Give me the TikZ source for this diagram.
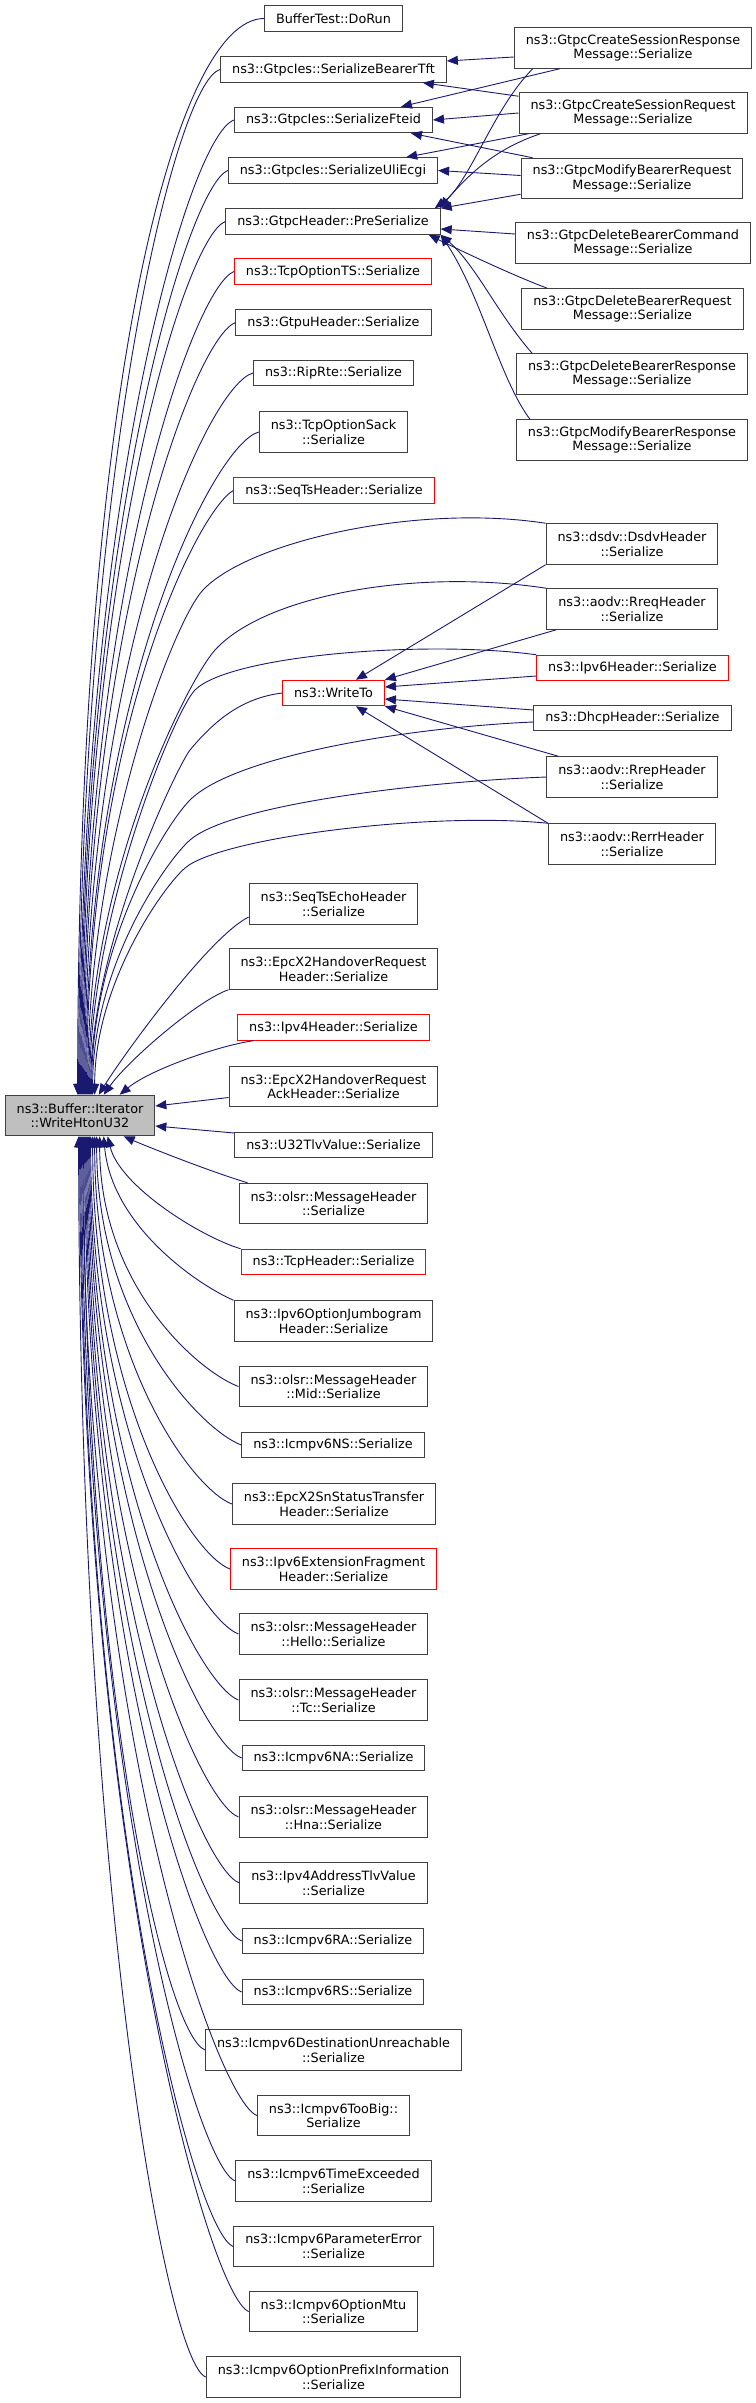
\documentclass[tikz,border=0pt]{standalone}
\usepackage{fontspec}
\setmainfont{DejaVu Sans}
\usetikzlibrary{arrows.meta,calc}
\definecolor{callblue}{HTML}{191970}
\definecolor{boxgrey}{HTML}{BFBFBF}
\tikzset{
  fn/.style={draw=black!75, line width=1pt, fill=white, align=center, inner xsep=11.5pt, inner ysep=0pt,
    minimum height=25.5pt, font=\fontsize{12.8pt}{14.5pt}\selectfont},
  fntwo/.style={fn, minimum height=40.5pt},
  hot/.style={draw=red},
  call/.style={draw=callblue, line width=0.9pt, -{Triangle[length=11pt,width=9pt]}},
}
\begin{document}
\begin{tikzpicture}[x=1pt,y=-1pt]
	\useasboundingbox (0,0) rectangle (755,2403);
	
	% the function itself
	\node[fntwo,fill=boxgrey] (main) at (80,1115.5) {ns3::Buffer::Iterator\\::WriteHtonU32};
	
	% middle column
	\node[fn] (dorun) at (333.5,18.5) {BufferTest::DoRun};
	\node[fn] (tft) at (333.5,69.5) {ns3::GtpcIes::SerializeBearerTft};
	\node[fn] (fteid) at (333.5,120) {ns3::GtpcIes::SerializeFteid};
	\node[fn] (uli) at (333,170.5) {ns3::GtpcIes::SerializeUliEcgi};
	\node[fn] (presz) at (333,221.5) {ns3::GtpcHeader::PreSerialize};
	\node[fn,hot] (tcpts) at (333,271.5) {ns3::TcpOptionTS::Serialize};
	\node[fn] (gtpu) at (333.5,322.5) {ns3::GtpuHeader::Serialize};
	\node[fn] (riprte) at (333.5,373) {ns3::RipRte::Serialize};
	\node[fntwo] (sack) at (333.5,432) {ns3::TcpOptionSack\\::Serialize};
	\node[fn,hot] (seqts) at (334,490.5) {ns3::SeqTsHeader::Serialize};
	\node[fn,hot] (writeto) at (333.5,693) {ns3::WriteTo};
	\node[fntwo] (seqtsecho) at (333.5,904) {ns3::SeqTsEchoHeader\\::Serialize};
	\node[fntwo] (x2hr) at (333.5,969) {ns3::EpcX2HandoverRequest\\Header::Serialize};
	\node[fn,hot] (ipv4) at (333.5,1027.5) {ns3::Ipv4Header::Serialize};
	\node[fntwo] (x2ack) at (333.5,1086.5) {ns3::EpcX2HandoverRequest\\AckHeader::Serialize};
	\node[fn] (u32) at (333.5,1145) {ns3::U32TlvValue::Serialize};
	\node[fntwo] (olsrmsg) at (333.5,1203.5) {ns3::olsr::MessageHeader\\::Serialize};
	\node[fn,hot] (tcph) at (333.5,1262) {ns3::TcpHeader::Serialize};
	\node[fntwo] (jumbo) at (333.5,1321) {ns3::Ipv6OptionJumbogram\\Header::Serialize};
	\node[fntwo] (olsrmid) at (333.5,1386.5) {ns3::olsr::MessageHeader\\::Mid::Serialize};
	\node[fn] (ns) at (333,1445) {ns3::Icmpv6NS::Serialize};
	\node[fntwo] (x2sn) at (334,1504) {ns3::EpcX2SnStatusTransfer\\Header::Serialize};
	\node[fntwo,hot] (frag) at (333.5,1569) {ns3::Ipv6ExtensionFragment\\Header::Serialize};
	\node[fntwo] (hello) at (333.5,1634) {ns3::olsr::MessageHeader\\::Hello::Serialize};
	\node[fntwo] (tc) at (333.5,1700) {ns3::olsr::MessageHeader\\::Tc::Serialize};
	\node[fn] (na) at (333.5,1758) {ns3::Icmpv6NA::Serialize};
	\node[fntwo] (hna) at (333.5,1817) {ns3::olsr::MessageHeader\\::Hna::Serialize};
	\node[fntwo] (ipv4tlv) at (333.5,1883) {ns3::Ipv4AddressTlvValue\\::Serialize};
	\node[fn] (ra) at (333,1941) {ns3::Icmpv6RA::Serialize};
	\node[fn] (rs) at (333,1992) {ns3::Icmpv6RS::Serialize};
	\node[fntwo] (unreach) at (333.5,2050) {ns3::Icmpv6DestinationUnreachable\\::Serialize};
	\node[fntwo] (toobig) at (333.5,2115.5) {ns3::Icmpv6TooBig::\\Serialize};
	\node[fntwo] (timeex) at (333.5,2181) {ns3::Icmpv6TimeExceeded\\::Serialize};
	\node[fntwo] (paramerr) at (333.5,2246.5) {ns3::Icmpv6ParameterError\\::Serialize};
	\node[fntwo] (mtu) at (333.5,2311.5) {ns3::Icmpv6OptionMtu\\::Serialize};
	\node[fntwo] (prefix) at (333.5,2377) {ns3::Icmpv6OptionPrefixInformation\\::Serialize};
	
	% right column
	\node[fntwo] (csresp) at (633,48) {ns3::GtpcCreateSessionResponse\\Message::Serialize};
	\node[fntwo] (csreq) at (633,113) {ns3::GtpcCreateSessionRequest\\Message::Serialize};
	\node[fntwo] (mbreq) at (632,178.5) {ns3::GtpcModifyBearerRequest\\Message::Serialize};
	\node[fntwo] (dbcmd) at (633,243) {ns3::GtpcDeleteBearerCommand\\Message::Serialize};
	\node[fntwo] (dbreq) at (632.5,309) {ns3::GtpcDeleteBearerRequest\\Message::Serialize};
	\node[fntwo] (dbresp) at (632,374) {ns3::GtpcDeleteBearerResponse\\Message::Serialize};
	\node[fntwo] (mbresp) at (632,440) {ns3::GtpcModifyBearerResponse\\Message::Serialize};
	\node[fntwo] (dsdv) at (632,544) {ns3::dsdv::DsdvHeader\\::Serialize};
	\node[fntwo] (rreq) at (632,609) {ns3::aodv::RreqHeader\\::Serialize};
	\node[fn,hot] (ipv6) at (632.5,668) {ns3::Ipv6Header::Serialize};
	\node[fn] (dhcp) at (632.5,718) {ns3::DhcpHeader::Serialize};
	\node[fntwo] (rrep) at (632,777) {ns3::aodv::RrepHeader\\::Serialize};
	\node[fntwo] (rerr) at (632,844) {ns3::aodv::RerrHeader\\::Serialize};
	
	% callers above the function
	\foreach \n/\m/\s/\c/\e in {dorun/90/0/700/73, tft/45/12/620/74, fteid/45/15/590/75, uli/40/15/560/76,
		presz/40/15/530/77, tcpts/40/15/500/78, gtpu/40/15/470/79, riprte/45/12/440/80, sack/45/12/400/81, seqts/35/20/365/82}
		\draw[call] (\n.west) .. controls +(-\m,\s) and +(0,-\c) .. ($(main.north west)+(\e,0)$);
	\draw[call] ($(seqtsecho.west)+(0,13)$) .. controls +(-40,20) and +(25,-40) .. ($(main.north west)+(94,0)$);
	\draw[call] (x2hr.south west) .. controls +(-30,10) and +(25,-35) .. ($(main.north west)+(99,0)$);
	\draw[call] ($(ipv4.south west)+(16,0)$) .. controls +(-35,5) and +(30,-25) .. ($(main.north west)+(115,0)$);
	\draw[call] ($(x2ack.west)+(0,11)$) -- ($(main.east)+(0,-9.5)$);
	\draw[call] ($(u32.west)+(0,-12)$) -- ($(main.east)+(0,10.5)$);
	
	% callers below the function
	\draw[call] ($(olsrmsg.north west)+(9,0)$) .. controls +(-40,-12) and +(18,8) .. ($(main.south west)+(119,0)$);
	\draw[call] (tcph.north west) .. controls +(-40,-12) and +(12,50) .. ($(main.south west)+(103,0)$);
	\draw[call] (jumbo.north west) .. controls +(-35,-15) and +(8,90) .. ($(main.south west)+(99,0)$);
	\foreach \n/\m/\s/\c/\e in {olsrmid/40/15/150/95, ns/40/15/185/92, x2sn/40/15/220/90, frag/40/15/260/88,
		hello/40/15/300/86, tc/40/15/340/85, na/40/15/375/84, hna/40/15/410/83, ipv4tlv/40/15/450/82,
		ra/40/15/485/81, rs/40/15/515/80, unreach/40/15/550/79, toobig/40/15/590/78, timeex/40/15/628/77,
		paramerr/40/15/667/76, mtu/40/15/705/75, prefix/40/15/745/74}
		\draw[call] (\n.west) .. controls +(-\m,-\s) and +(0,\c) .. ($(main.south west)+(\e,0)$);
	
	% long ones from the right column
	\draw[call] (dsdv.north west) .. controls +(-130,-20) and +(45,-48) .. (203,590)
		.. controls +(-30,32) and +(0,-250) .. ($(main.north west)+(83,0)$);
	\draw[call] (rreq.north west) .. controls +(-130,-20) and +(50,-55) .. (215,650)
		.. controls +(-27,30) and +(0,-220) .. ($(main.north west)+(84,0)$);
	\draw[call] (ipv6.north west) .. controls +(-110,-15) and +(35,-35) .. (195,690)
		.. controls +(-20,20) and +(0,-180) .. ($(main.north west)+(85,0)$);
	\draw[call] (writeto.west) .. controls +(-40,5) and +(25,-30) .. (190,750)
		.. controls +(-12,15) and +(0,-150) .. ($(main.north west)+(86,0)$);
	\draw[call] ($(dhcp.west)+(0,4)$) .. controls +(-120,5) and +(45,-45) .. (190,800)
		.. controls +(-25,25) and +(0,-150) .. ($(main.north west)+(87,0)$);
	\draw[call] (rrep.west) .. controls +(-130,5) and +(40,-35) .. (190,840)
		.. controls +(-23,20) and +(0,-130) .. ($(main.north west)+(88,0)$);
	\draw[call] (rerr.north west) .. controls +(-120,-12) and +(35,-30) .. (185,868)
		.. controls +(-23,20) and +(0,-110) .. ($(main.north west)+(90,0)$);
	
	% gtpc messages
	\draw[call] ($(csresp.west)+(0,9)$) -- ($(tft.east)+(0,-8.5)$);
	\draw[call] ($(csresp.south west)+(46,0)$) -- ($(fteid.north east)+(-32,0)$);
	\draw[call] ($(csresp.south west)+(19,0)$) .. controls +(-40,40) and +(35,-25) .. ($(presz.north east)+(-6,0)$);
	\draw[call] ($(csreq.north west)+(0,4)$) -- ($(tft.south east)+(-24,0)$);
	\draw[call] (csreq.west) -- (fteid.east);
	\draw[call] ($(csreq.south west)+(10,0)$) -- ($(uli.north east)+(-32,0)$);
	\draw[call] ($(csreq.south west)+(22,0)$) .. controls +(-45,15) and +(30,-35) .. ($(presz.north east)+(-1,0)$);
	\draw[call] ($(mbreq.north west)+(12,0)$) -- ($(fteid.south east)+(-22,0)$);
	\draw[call] ($(mbreq.west)+(0,-3)$) -- (uli.east);
	\draw[call] ($(mbreq.south west)+(0,-5)$) -- (presz.north east);
	\draw[call] ($(dbcmd.west)+(0,-9)$) -- ($(presz.east)+(0,7.5)$);
	\draw[call] ($(dbreq.north west)+(26,0)$) .. controls +(-40,-15) and +(20,10) .. ($(presz.south east)+(-12,0)$);
	\draw[call] ($(dbresp.north west)+(16,0)$) .. controls +(-35,-40) and +(35,30) .. (presz.south east);
	\draw[call] ($(mbresp.north west)+(14,0)$) .. controls +(-30,-40) and +(40,60) .. (presz.south east);
	
	% into WriteTo
	\draw[call] (dsdv.south west) -- ($(writeto.north east)+(-29,0)$);
	\draw[call] ($(rreq.south west)+(10,0)$) -- (writeto.north east);
	\draw[call] ($(ipv6.west)+(0,8)$) -- ($(writeto.east)+(0,-6)$);
	\draw[call] ($(dhcp.west)+(0,-8)$) -- ($(writeto.east)+(0,6)$);
	\draw[call] ($(rrep.north west)+(12,0)$) -- (writeto.south east);
	\draw[call] (rerr.north west) -- ($(writeto.south east)+(-29,0)$);
\end{tikzpicture}
\end{document}
